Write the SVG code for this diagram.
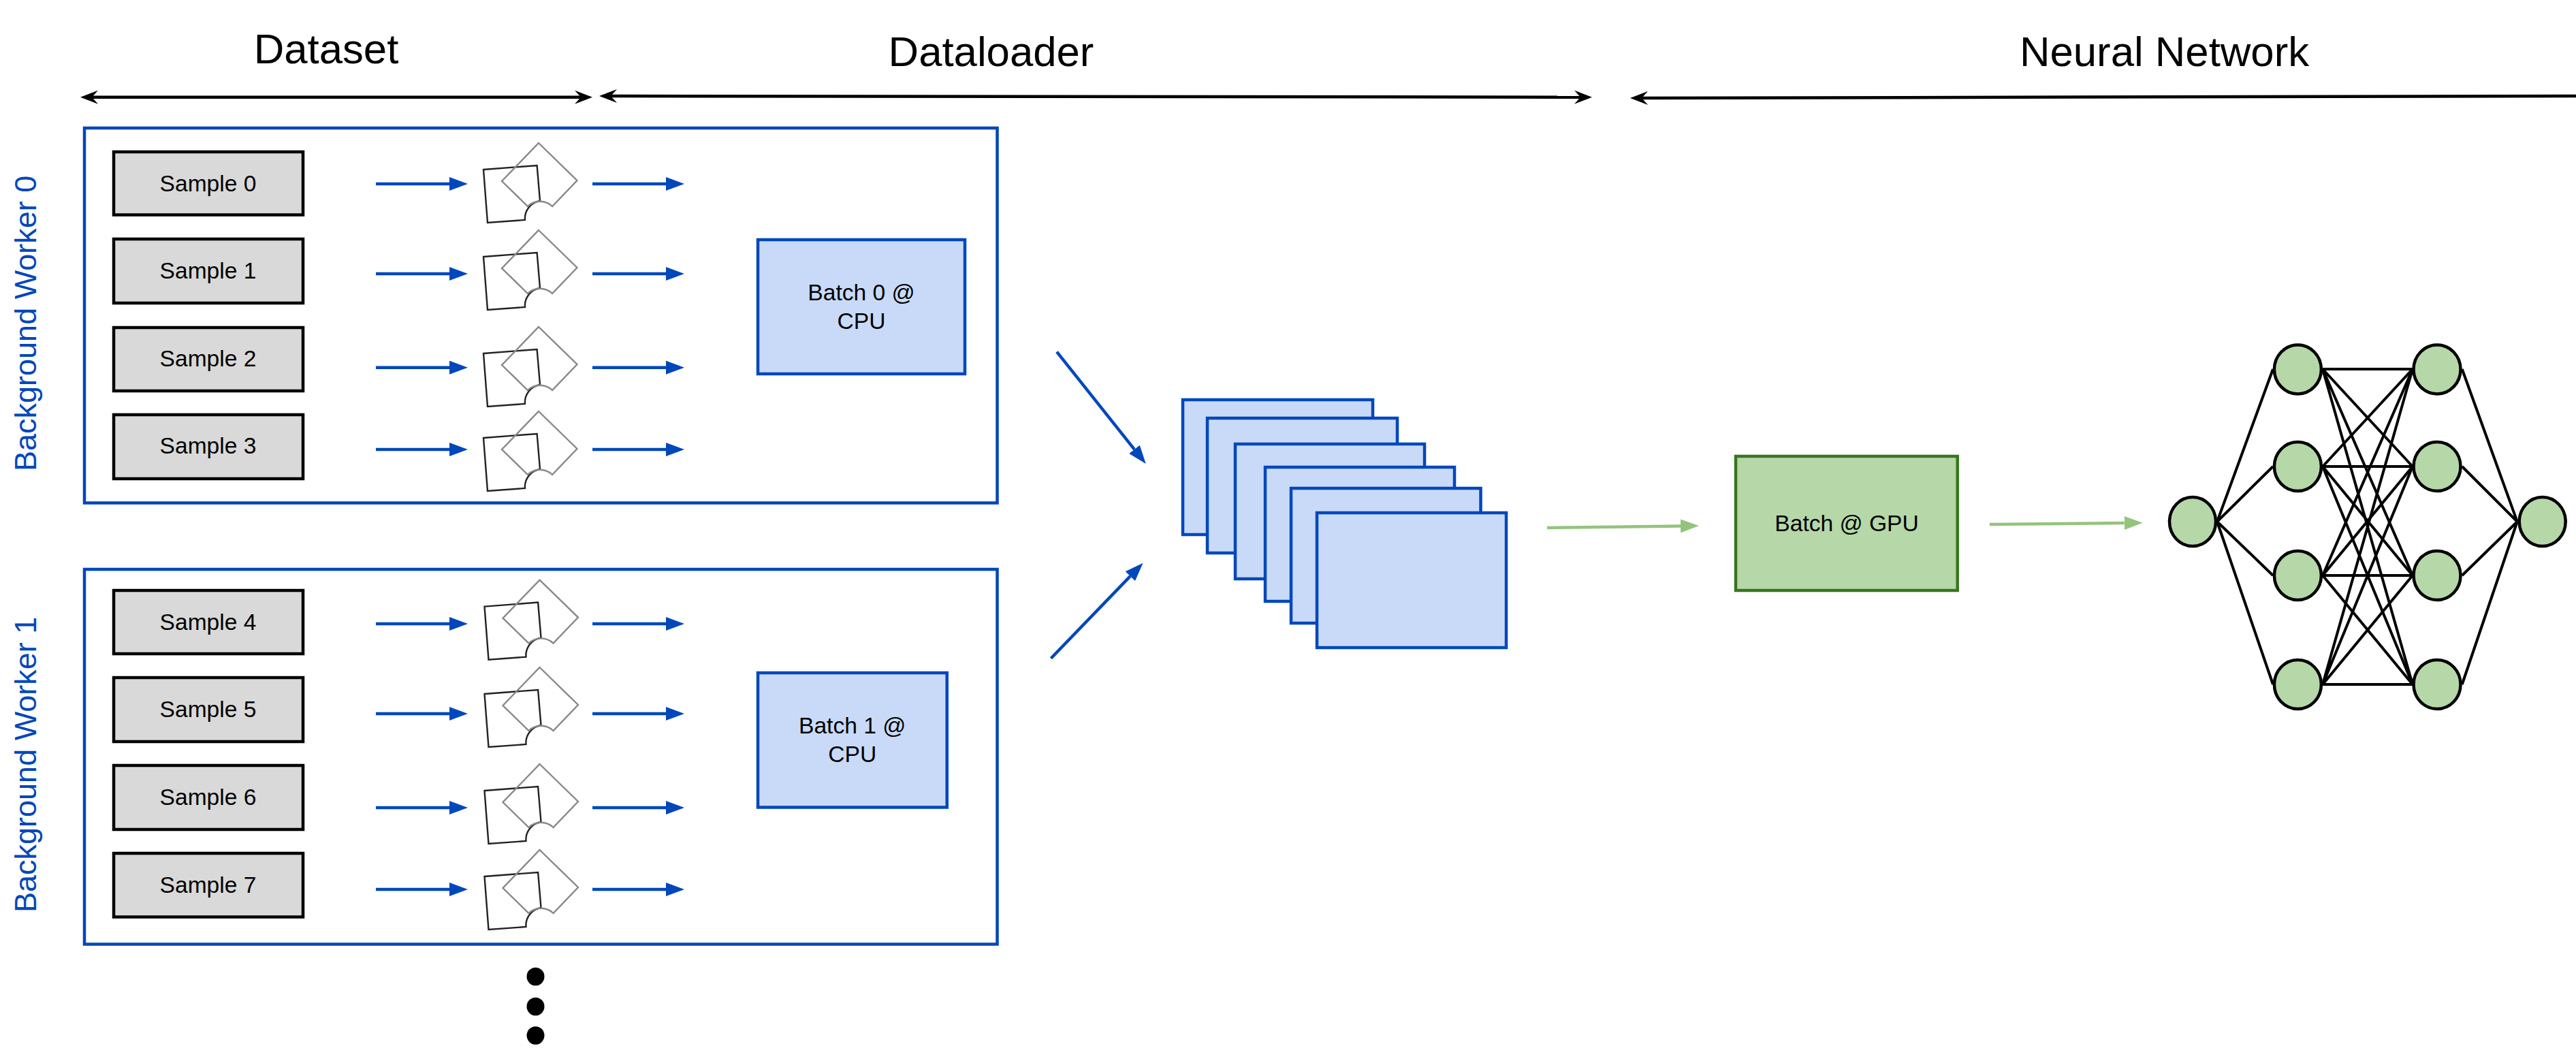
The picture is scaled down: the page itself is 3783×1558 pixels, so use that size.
<svg xmlns="http://www.w3.org/2000/svg" width="3783" height="1558" viewBox="0 0 3783 1558">
<style>
text{font-family:"Liberation Sans",Arial,sans-serif;fill:#000}
.title{font-size:61.7px;text-anchor:middle}
.lbl{font-size:33.6px;text-anchor:middle}
.worker{font-size:45px;fill:#0047bb}
.box{fill:#fff;stroke:#0047bb;stroke-width:4.5}
.sample{fill:#d9d9d9;stroke:#000;stroke-width:4.5}
.batch{fill:#c9daf8;stroke:#0047bb;stroke-width:4.5}
.gpu{fill:#b6d7a8;stroke:#38761d;stroke-width:4.5}
.neuron{fill:#b6d7a8;stroke:#000;stroke-width:4.5}
.bk{stroke:#000;stroke-width:4.5;fill:none}
.bl{stroke:#0047bb;stroke-width:4.5;fill:none;marker-end:url(#hb)}
.gr{stroke:#93c47d;stroke-width:4.5;fill:none;marker-end:url(#hg)}
.edge{stroke:#000;stroke-width:4;fill:none}
.ic1{fill:none;stroke:#222;stroke-width:2.4}
.ic2{fill:none;stroke:#888;stroke-width:2.4}
</style>
<defs>
<marker id="hb" markerUnits="userSpaceOnUse" markerWidth="27" markerHeight="20" refX="0" refY="10" orient="auto"><path d="M0,0L27,10L0,20Z" fill="#0047bb"/></marker>
<marker id="hg" markerUnits="userSpaceOnUse" markerWidth="27" markerHeight="20" refX="0" refY="10" orient="auto"><path d="M0,0L27,10L0,20Z" fill="#93c47d"/></marker>
<marker id="hk" markerUnits="userSpaceOnUse" markerWidth="26" markerHeight="20" refX="9" refY="10" orient="auto-start-reverse"><path d="M0,0L26,10L0,20L9,10Z" fill="#000"/></marker>
<g id="aug">
<path class="ic1" d="M-81,39L-2.4,33L2,85A26,26 0 0 0 -20,113L-75,117Z"/>
<path class="ic2" d="M0,0L56.5,55L20,93A26,26 0 0 0 -16,93L-54,56Z"/>
</g>
</defs>
<rect width="3783" height="1558" fill="#fff"/>

<g id="headers">
<text class="title" x="479" y="93.3">Dataset</text>
<text class="title" x="1455.5" y="97.3">Dataloader</text>
<text class="title" x="3178.5" y="97">Neural Network</text>
</g>

<g id="worker-0">
<rect class="box" x="124" y="188" width="1340.5" height="550.5"/>
<text class="worker" transform="translate(53.3,692) rotate(-90)">Background Worker 0</text>
</g>
<g id="worker-1">
<rect class="box" x="124" y="836" width="1340.5" height="550.5"/>
<text class="worker" transform="translate(53.3,1340) rotate(-90)">Background Worker 1</text>
</g>

<g id="sample-0"><rect class="sample" x="167" y="223" width="278" height="92.5"/><text class="lbl" x="305.5" y="281">Sample 0</text></g>
<g id="sample-1"><rect class="sample" x="167" y="351" width="278" height="94"/><text class="lbl" x="305.5" y="409">Sample 1</text></g>
<g id="sample-2"><rect class="sample" x="167" y="481" width="278" height="93"/><text class="lbl" x="305.5" y="538">Sample 2</text></g>
<g id="sample-3"><rect class="sample" x="167" y="609" width="278" height="94"/><text class="lbl" x="305.5" y="666">Sample 3</text></g>
<g id="sample-4"><rect class="sample" x="167" y="867" width="278" height="93"/><text class="lbl" x="305.5" y="925">Sample 4</text></g>
<g id="sample-5"><rect class="sample" x="167" y="995" width="278" height="94"/><text class="lbl" x="305.5" y="1053">Sample 5</text></g>
<g id="sample-6"><rect class="sample" x="167" y="1124" width="278" height="94"/><text class="lbl" x="305.5" y="1182">Sample 6</text></g>
<g id="sample-7"><rect class="sample" x="167" y="1253" width="278" height="93.5"/><text class="lbl" x="305.5" y="1311">Sample 7</text></g>

<g id="augmentations">
<use href="#aug" x="791" y="210"/>
<use href="#aug" x="791" y="338"/>
<use href="#aug" x="791" y="480"/>
<use href="#aug" x="791" y="604"/>
<use href="#aug" x="792.5" y="851.6"/>
<use href="#aug" x="792.5" y="980"/>
<use href="#aug" x="792.5" y="1122"/>
<use href="#aug" x="792.5" y="1248"/>
</g>

<g id="batch-0"><rect class="batch" x="1113" y="352" width="304" height="197"/><text class="lbl" x="1265" y="440.6">Batch 0 @</text><text class="lbl" x="1265" y="482.7">CPU</text></g>
<g id="batch-1"><rect class="batch" x="1113" y="988" width="277.7" height="197.5"/><text class="lbl" x="1251.7" y="1077">Batch 1 @</text><text class="lbl" x="1251.7" y="1119">CPU</text></g>

<g id="batch-stack">
<rect class="batch" x="1737" y="587" width="279" height="198"/>
<rect class="batch" x="1773" y="614" width="279" height="198"/>
<rect class="batch" x="1814" y="652" width="278" height="198"/>
<rect class="batch" x="1858" y="686" width="278" height="197"/>
<rect class="batch" x="1896" y="717" width="278.5" height="198"/>
<rect class="batch" x="1934" y="753" width="278" height="198"/>
</g>

<g id="batch-gpu"><rect class="gpu" x="2549" y="670" width="325.7" height="197"/><text class="lbl" x="2712" y="780">Batch @ GPU</text></g>

<g id="connectors">
<path class="bk" d="M135,142.7H853" marker-start="url(#hk)" marker-end="url(#hk)"/>
<path class="bk" d="M897,141L2321,142.7" marker-start="url(#hk)" marker-end="url(#hk)"/>
<path class="bk" d="M2411,144L3790,141" marker-start="url(#hk)"/>
<path class="bl" d="M552,270H660"/><path class="bl" d="M870,270H978"/>
<path class="bl" d="M552,402H660"/><path class="bl" d="M870,402H978"/>
<path class="bl" d="M552,539.7H660"/><path class="bl" d="M870,539.7H978"/>
<path class="bl" d="M552,660H660"/><path class="bl" d="M870,660H978"/>
<path class="bl" d="M552,916H660"/><path class="bl" d="M870,916H978"/>
<path class="bl" d="M552,1048H660"/><path class="bl" d="M870,1048H978"/>
<path class="bl" d="M552,1186H660"/><path class="bl" d="M870,1186H978"/>
<path class="bl" d="M552,1306H660"/><path class="bl" d="M870,1306H978"/>
<path class="bl" d="M1552,516.7L1665.9,659.9"/>
<path class="bl" d="M1543.4,966.7L1659.8,846.1"/>
<path class="gr" d="M2272,775L2468,772.4"/>
<path class="gr" d="M2922,770L3119.6,768"/>
<g id="nn-edges">
<path class="edge" d="M3256,766L3338,542M3256,766L3338,685M3256,766L3338,845M3256,766L3338,1005"/>
<path class="edge" d="M3411,542L3543,542M3411,542L3543,685M3411,542L3543,845M3411,542L3543,1005"/>
<path class="edge" d="M3411,685L3543,542M3411,685L3543,685M3411,685L3543,845M3411,685L3543,1005"/>
<path class="edge" d="M3411,845L3543,542M3411,845L3543,685M3411,845L3543,845M3411,845L3543,1005"/>
<path class="edge" d="M3411,1005L3543,542M3411,1005L3543,685M3411,1005L3543,845M3411,1005L3543,1005"/>
<path class="edge" d="M3615.7,542L3696.7,766M3615.7,685L3696.7,766M3615.7,845L3696.7,766M3615.7,1005L3696.7,766"/>
</g>
</g>

<g id="nn-input"><ellipse class="neuron" cx="3220" cy="766" rx="34" ry="36"/></g>
<g id="nn-h1-0"><ellipse class="neuron" cx="3374.4" cy="542.4" rx="34.5" ry="36"/></g>
<g id="nn-h1-1"><ellipse class="neuron" cx="3374.4" cy="685" rx="34.5" ry="36"/></g>
<g id="nn-h1-2"><ellipse class="neuron" cx="3374.4" cy="845" rx="34.5" ry="36"/></g>
<g id="nn-h1-3"><ellipse class="neuron" cx="3374.4" cy="1005" rx="34.5" ry="36"/></g>
<g id="nn-h2-0"><ellipse class="neuron" cx="3579" cy="542.4" rx="34.5" ry="36"/></g>
<g id="nn-h2-1"><ellipse class="neuron" cx="3579" cy="685" rx="34.5" ry="36"/></g>
<g id="nn-h2-2"><ellipse class="neuron" cx="3579" cy="845" rx="34.5" ry="36"/></g>
<g id="nn-h2-3"><ellipse class="neuron" cx="3579" cy="1005" rx="34.5" ry="36"/></g>
<g id="nn-output"><ellipse class="neuron" cx="3733.7" cy="766" rx="34" ry="36"/></g>

<g id="ellipsis">
<ellipse cx="786.5" cy="1434" rx="13" ry="13.3"/>
<ellipse cx="786.5" cy="1478" rx="13" ry="13.3"/>
<ellipse cx="786.5" cy="1520.5" rx="13" ry="13.3"/>
</g>
</svg>
